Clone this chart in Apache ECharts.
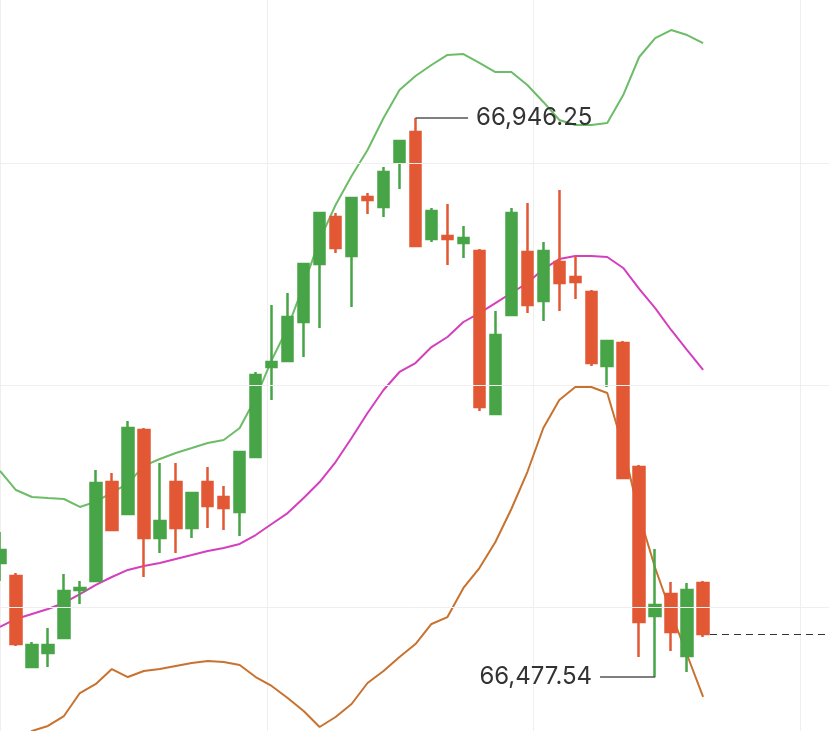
<!DOCTYPE html>
<html>
<head>
<meta charset="utf-8">
<script src="https://cdn.jsdelivr.net/npm/echarts@6/dist/echarts.min.js"></script>
<style>
html, body { margin: 0; padding: 0; background: #fff; }
#chart { width: 829px; height: 731px; }
</style>
</head>
<body>
<div id="chart"></div>
<script>
// OHLC, one entry per candle
const opens = [66573.1, 66562.2, 66485.9, 66497.7, 66510.2, 66550.5, 66558.0, 66641.0, 66614.2, 66684.6,
  66594.1, 66641.0, 66602.5, 66641.0, 66628.5, 66615.9, 66662.0, 66737.5, 66742.5, 66775.2,
  66823.8, 66863.2, 66830.5, 66880.0, 66871.6, 66909.4, 66934.5, 66844.8, 66847.3, 66841.4,
  66834.7, 66698.1, 66781.1, 66833.9, 66792.8, 66825.5, 66812.9, 66800.4, 66738.3, 66757.6,
  66653.6, 66528.7, 66547.1, 66495.1, 66556.4]
const closes = [66584.0, 66505.2, 66504.4, 66504.4, 66549.6, 66552.2, 66640.2, 66600.8, 66686.3, 66594.1,
  66608.3, 66602.5, 66631.8, 66620.9, 66619.2, 66666.2, 66730.8, 66741.7, 66779.4, 66823.8,
  66866.6, 66837.2, 66879.2, 66877.5, 66901.0, 66927.0, 66838.9, 66868.3, 66844.8, 66845.6,
  66703.9, 66764.3, 66866.6, 66789.5, 66834.7, 66807.9, 66808.7, 66740.8, 66759.3, 66644.4,
  66523.7, 66537.9, 66515.3, 66550.5, 66513.6]
const lows = [66558.0, 66503.5, 66485.9, 66485.9, 66510.2, 66538.7, 66558.0, 66600.8, 66614.2, 66561.4,
  66581.5, 66581.5, 66594.1, 66602.5, 66600.8, 66595.8, 66662.0, 66709.8, 66742.5, 66745.9,
  66770.2, 66833.1, 66787.8, 66865.8, 66863.2, 66886.7, 66838.9, 66842.3, 66823.0, 66828.9,
  66700.6, 66698.1, 66781.1, 66782.7, 66776.0, 66784.4, 66794.5, 66738.3, 66720.7, 66644.4,
  66494.3, 66477.54, 66499.3, 66481.7, 66511.1]
const highs = [66599.1, 66564.7, 66506.9, 66518.6, 66563.9, 66558.0, 66651.1, 66648.6, 66692.2, 66686.3,
  66657.0, 66657.0, 66631.8, 66653.6, 66637.7, 66666.2, 66733.3, 66789.5, 66799.5, 66823.8,
  66866.6, 66866.6, 66879.2, 66883.4, 66905.2, 66927.0, 66946.25, 66870.8, 66874.1, 66855.7,
  66836.4, 66784.4, 66870.8, 66875.0, 66842.3, 66885.9, 66830.5, 66802.0, 66759.3, 66759.3,
  66655.3, 66584.9, 66557.2, 66556.4, 66558.0]

// bollinger bands
const upperBand = [66650.3, 66634.3, 66628.5, 66627.6, 66626.8, 66620.1, 66624.6, 66632.1, 66639.7, 66654.5,
  66660.3, 66665.4, 66669.5, 66673.7, 66676.3, 66686.3, 66711.5, 66743.3, 66770.2, 66806.2,
  66844.0, 66873.3, 66897.6, 66919.4, 66946.25, 66969.7, 66981.5, 66990.7, 66999.1, 66999.9,
  66992.4, 66984.8, 66984.8, 66973.9, 66959.7, 66944.6, 66940.4, 66940.4, 66942.1, 66965.5,
  66997.4, 67013.3, 67020.0, 67015.8, 67009.1]
const middleBand = [66519.5, 66526.2, 66530.4, 66534.6, 66539.6, 66547.1, 66554.7, 66561.4, 66567.3, 66570.6,
  66573.1, 66576.5, 66579.8, 66583.2, 66585.7, 66589.1, 66596.6, 66605.8, 66615.0, 66627.6,
  66641.0, 66657.8, 66677.9, 66698.9, 66718.2, 66733.3, 66740.8, 66754.2, 66762.6, 66775.2,
  66782.7, 66791.1, 66799.5, 66807.9, 66819.6, 66828.0, 66830.5, 66830.5, 66829.7, 66820.5,
  66802.9, 66786.9, 66768.5, 66751.7, 66735.0]
const lowerBand = [66388.7, 66418.0, 66432.3, 66436.5, 66444.8, 66464.1, 66471.7, 66484.2, 66477.5, 66482.6,
  66484.2, 66486.8, 66489.3, 66491.0, 66490.1, 66487.6, 66477.5, 66470.0, 66459.9, 66449.0,
  66435.6, 66444.0, 66454.9, 66472.5, 66482.6, 66494.3, 66505.2, 66522.0, 66527.8, 66552.2,
  66568.9, 66590.7, 66618.4, 66649.4, 66686.3, 66709.8, 66720.7, 66720.7, 66715.7, 66670.4,
  66613.4, 66568.9, 66531.2, 66496.0, 66460.8]

// price levels of the faint horizontal grid lines
const gridLevels = [66908.52, 66722.37, 66536.23]

const UP = '#47a447'
const DOWN = '#e25834'
const xMax = 51.877
const yMin = 66432.26
const yMax = 67045.19

let candles = opens.map((o, i) => [i, o, closes[i], lows[i], highs[i]])
let band = arr => arr.map((v, i) => [i, v])

let hi = Math.max(...highs)
let lo = Math.min(...lows)
let hiIdx = highs.indexOf(hi)
let loIdx = lows.indexOf(lo)
let last = closes[closes.length - 1]
let fmt = v => v.toLocaleString('en-US', { minimumFractionDigits: 2, maximumFractionDigits: 2 })

let tagLabel = {
  show: true,
  position: 'end',
  distance: 8,
  fontFamily: 'Inter',
  fontSize: 24,
  color: '#333'
}
let hidden = { show: false }

let option = {
  animation: false,
  backgroundColor: '#fff',
  grid: { left: 0, right: 0, top: 0, bottom: 0 },
  xAxis: {
    type: 'value',
    min: 0,
    max: xMax,
    interval: 16.7,
    axisLine: hidden,
    axisTick: hidden,
    axisLabel: hidden,
    splitLine: { show: true, lineStyle: { color: '#efefef', width: 1 } }
  },
  yAxis: {
    type: 'value',
    min: yMin,
    max: yMax,
    axisLine: hidden,
    axisTick: hidden,
    axisLabel: hidden,
    splitLine: hidden
  },
  series: [{
    // horizontal grid lines
    type: 'line',
    data: [],
    z: 0,
    markLine: {
      silent: true,
      symbol: 'none',
      label: hidden,
      lineStyle: { color: '#efefef', width: 1, type: 'solid' },
      data: gridLevels.map(v => ({ yAxis: v }))
    }
  }, {
    type: 'line',
    data: band(upperBand),
    symbol: 'none',
    lineStyle: { color: '#6cbc68', width: 2 },
    z: 1
  }, {
    type: 'line',
    data: band(middleBand),
    symbol: 'none',
    lineStyle: { color: '#d43fbd', width: 2 },
    z: 1
  }, {
    type: 'line',
    data: band(lowerBand),
    symbol: 'none',
    lineStyle: { color: '#c8722f', width: 2 },
    z: 1
  }, {
    type: 'candlestick',
    data: candles,
    encode: { x: 0, y: [1, 2, 3, 4] },
    barWidth: 11,
    itemStyle: {
      color: UP,
      color0: DOWN,
      borderColor: UP,
      borderColor0: DOWN,
      borderWidth: 2.5
    },
    z: 2,
    markLine: {
      silent: true,
      symbol: 'none',
      data: [
        [
          { coord: [hiIdx, hi], lineStyle: { color: '#555', width: 1.5, type: 'solid' } },
          { coord: [29.29, hi], label: Object.assign({}, tagLabel, { formatter: fmt(hi) }) }
        ],
        [
          { coord: [loIdx, lo], lineStyle: { color: '#555', width: 1.5, type: 'solid' } },
          { coord: [37.55, lo], label: Object.assign({}, tagLabel, { formatter: fmt(lo) }) }
        ],
        [
          { coord: [44.43, last], lineStyle: { color: '#333', width: 1.2, type: [7, 5] } },
          { coord: [xMax, last], label: hidden }
        ]
      ]
    }
  }]
}

let chart = echarts.init(document.getElementById('chart'))
chart.setOption(option)
</script>
</body>
</html>
